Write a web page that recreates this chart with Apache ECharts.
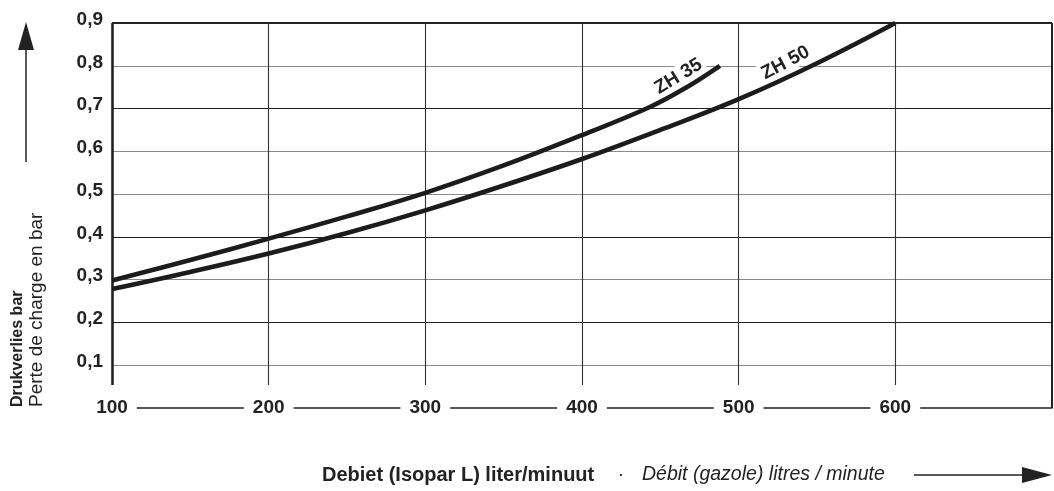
<!DOCTYPE html>
<html>
<head>
<meta charset="utf-8">
<script src="https://cdn.jsdelivr.net/npm/echarts@6/dist/echarts.min.js"></script>
<style>
html,body{margin:0;padding:0;background:#fff;}
#chart{width:1054px;height:491px;}
</style>
</head>
<body>
<div id="chart"></div>
<script>
// ---- data ----
const xTicks = [100, 200, 300, 400, 500, 600, 700];
const yTicks = [0.1, 0.2, 0.3, 0.4, 0.5, 0.6, 0.7, 0.8, 0.9];
const zh35 = [[100,0.298],[150,0.346],[200,0.396],[250,0.448],[300,0.503],[350,0.567],[400,0.638],[443,0.703],[466,0.748],[488,0.800]];
const zh50 = [[100,0.278],[150,0.318],[200,0.361],[250,0.409],[300,0.462],[350,0.520],[400,0.582],[450,0.650],[500,0.722],[550,0.806],[600,0.900]];
const seriesNames = ['ZH 35', 'ZH 50'];
const labelAnchors = [[466, 0.748], [534, 0.779]];
const labelAngles = [31, 28];
const yTitleBold = 'Drukverlies bar';
const yTitleRegular = 'Perte de charge en bar';
const xTitleBold = 'Debiet (Isopar L) liter/minuut';
const xTitleItalic = 'Débit (gazole) litres / minute';

const FONT = '"Liberation Sans", Arial, Helvetica, sans-serif';
const DARK = '#222';
const GRAY = '#8a8a8a';
const gridColors = {0.1: GRAY, 0.2: DARK, 0.3: GRAY, 0.4: DARK, 0.5: GRAY, 0.6: GRAY, 0.7: DARK, 0.8: GRAY};
const vBottom = 0.054;

const mlData = [];
yTicks.forEach(v => {
  if (v === 0.9) {
    mlData.push({yAxis: v, lineStyle: {color: DARK, width: 2.2, type: 'solid'}});
  } else {
    mlData.push({yAxis: v, lineStyle: {color: gridColors[v], width: 1.2, type: 'solid'}});
  }
});
xTicks.forEach(v => {
  if (v === 100) {
    mlData.push([{coord: [v, vBottom], lineStyle: {color: DARK, width: 2.6, type: 'solid'}}, {coord: [v, 0.9]}]);
  } else if (v === 700) {
    mlData.push([{coord: [v, 0], lineStyle: {color: DARK, width: 2, type: 'solid'}}, {coord: [v, 0.9]}]);
  } else {
    mlData.push([{coord: [v, vBottom], lineStyle: {color: '#333', width: 1.1, type: 'solid'}}, {coord: [v, 0.9]}]);
  }
});

const chart = echarts.init(document.getElementById('chart'), null, {renderer: 'canvas'});
const curveStyle = {color: '#1c1c1c', width: 4.6, cap: 'butt'};
chart.setOption({
  animation: false,
  backgroundColor: '#fff',
  grid: {left: 112, right: 2, top: 23, bottom: 83, containLabel: false},
  xAxis: {
    type: 'value', min: 100, max: 700, interval: 100,
    axisLine: {show: true, lineStyle: {color: DARK, width: 1.5}},
    axisTick: {show: false},
    splitLine: {show: false},
    axisLabel: {
      showMaxLabel: false,
      margin: 0, verticalAlign: 'middle',
      fontFamily: FONT, fontWeight: 'bold', fontSize: 19, color: DARK,
      backgroundColor: '#fff', padding: [2, 9, 2, 9],
      formatter: v => String(v)
    }
  },
  yAxis: {
    type: 'value', min: 0, max: 0.9, interval: 0.1,
    axisLine: {show: false}, axisTick: {show: false}, splitLine: {show: false},
    axisLabel: {
      margin: 9, fontFamily: FONT, fontWeight: 'bold', fontSize: 19, color: DARK,
      verticalAlign: 'bottom', lineHeight: 19, padding: [0, 0, -6, 0],
      formatter: v => v === 0 ? '' : v.toFixed(1).replace('.', ',')
    }
  },
  series: [
    {
      type: 'line', name: 'grid', data: [[100, 0]], symbol: 'none', silent: true, z: 1,
      lineStyle: {opacity: 0},
      markLine: {silent: true, symbol: ['none', 'none'], z: 1, label: {show: false},
        emphasis: {disabled: true}, animation: false, data: mlData}
    },
    {type: 'line', name: seriesNames[0], data: zh35, smooth: 0.4, symbol: 'none', z: 5, lineStyle: curveStyle, silent: true},
    {type: 'line', name: seriesNames[1], data: zh50, smooth: 0.4, symbol: 'none', z: 5, lineStyle: curveStyle, silent: true}
  ]
});

const graphics = [];
labelAnchors.forEach((a, i) => {
  const p = chart.convertToPixel({gridIndex: 0}, a);
  graphics.push({
    type: 'text', x: p[0], y: p[1], rotation: labelAngles[i] * Math.PI / 180, z: 10,
    style: {text: seriesNames[i], x: 0, y: -4, align: 'center', verticalAlign: 'bottom',
      font: 'bold 19px ' + FONT, fill: DARK, backgroundColor: '#fff', padding: [1, 3, 0, 3]}
  });
});
// y-axis titles
graphics.push({type: 'text', x: 18, y: 407, rotation: Math.PI / 2,
  style: {text: yTitleBold, align: 'left', verticalAlign: 'middle', font: 'bold 16px ' + FONT, fill: DARK}});
graphics.push({type: 'text', x: 37, y: 407, rotation: Math.PI / 2,
  style: {text: yTitleRegular, align: 'left', verticalAlign: 'middle', font: '19px ' + FONT, fill: DARK}});
// up arrow
graphics.push({type: 'line', shape: {x1: 26, y1: 162, x2: 26, y2: 48}, style: {stroke: DARK, lineWidth: 1.5}});
graphics.push({type: 'polygon', shape: {points: [[26, 22], [18, 50], [34, 50]]}, style: {fill: DARK}});
// x titles
graphics.push({type: 'text', x: 322, y: 475,
  style: {text: xTitleBold, align: 'left', verticalAlign: 'middle', font: 'bold 20px ' + FONT, fill: DARK}});
graphics.push({type: 'text', x: 621, y: 475,
  style: {text: '·', align: 'center', verticalAlign: 'middle', font: '19px ' + FONT, fill: DARK}});
graphics.push({type: 'text', x: 642, y: 475,
  style: {text: xTitleItalic, align: 'left', verticalAlign: 'middle', font: 'italic 19.5px ' + FONT, fill: DARK}});
// right arrow
graphics.push({type: 'line', shape: {x1: 914, y1: 475, x2: 1026, y2: 475}, style: {stroke: DARK, lineWidth: 1.5}});
graphics.push({type: 'polygon', shape: {points: [[1052, 475], [1022, 467], [1022, 483]]}, style: {fill: DARK}});

chart.setOption({graphic: graphics});
</script>
</body>
</html>
